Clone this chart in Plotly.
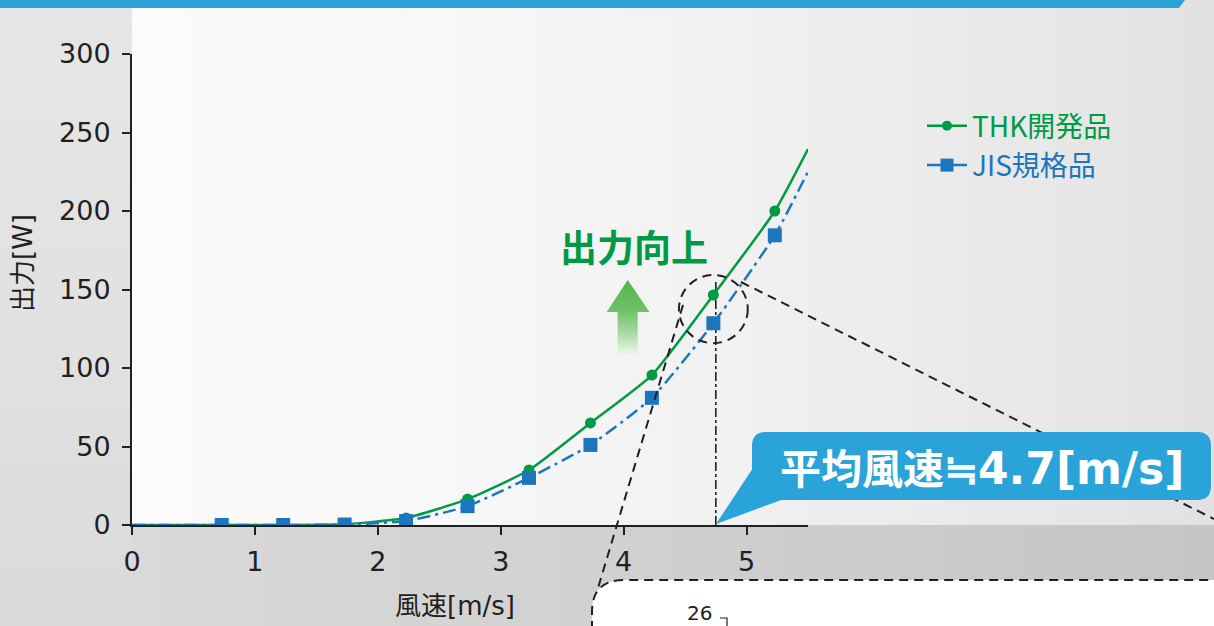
import plotly.graph_objects as go

# ---------------- data ----------------
wind_speed = [0.0, 0.73, 1.23, 1.73, 2.23, 2.73, 3.23, 3.73, 4.23, 4.73, 5.23, 5.5]
thk_output = [0.0, 0.0, 0.0, 0.5, 4.5, 16.5, 35.0, 65.0, 95.5, 146.5, 200.0, 239.5]
jis_output = [0.0, 0.0, 0.0, 0.3, 2.5, 12.0, 30.0, 51.0, 81.0, 128.5, 184.5, 225.0]
measured = [False, True, True, True, True, True, True, True, True, True, True, False]
series_names = ["THK開発品", "JIS規格品"]
x_tick_values = [0, 1, 2, 3, 4, 5]
y_tick_values = [0, 50, 100, 150, 200, 250, 300]
x_title = "風速[m/s]"
y_title = "出力[W]"
avg_wind_speed = 4.75
avg_cjk = "平均風速≒"
avg_value = "4.7[m/s]"
improvement_label = "出力向上"
zoom_point = 9
next_axis_label = "26"

# ---------------- styling ----------------
W, H = 1214, 626
L, R, T, B = 132, 808, 54, 525
GREEN = "#009a44"
BLUE = "#1c76bd"
CALLOUT = "#2aa3d9"
INK = "#231f20"
CJK = "Noto Sans CJK JP"
NUM = "DejaVu Sans"
MIXED = "DejaVu Sans, Noto Sans CJK JP"


def px(x):
    return (x - L) / (R - L)


def py(y):
    return (B - y) / (B - T)


def path(points, close=True):
    s = "M " + " L ".join(f"{px(a):.5f},{py(b):.5f}" for a, b in points)
    return s + (" Z" if close else "")


def lerp_gray(stops, x):
    for (x0, g0), (x1, g1) in zip(stops, stops[1:]):
        if x0 <= x <= x1:
            g = int(round(g0 + (g1 - g0) * (x - x0) / (x1 - x0)))
            return f"rgb({g},{g},{min(g + 1, 255)})"
    g = stops[-1][1]
    return f"rgb({g},{g},{g})"


shapes = []
# background gradient strips (upper light area and lower darker band)
upper_stops = [(132, 251), (450, 248), (800, 239), (1214, 226)]
lower_stops = [(132, 217), (600, 209), (1214, 197)]
left_stops = [(0, 230), (300, 226), (626, 218)]
n = 40
for i in range(n):
    x0 = 132 + (1214 - 132) * i / n
    x1 = 132 + (1214 - 132) * (i + 1) / n + 1
    xm = (x0 + x1) / 2
    shapes.append(dict(type="rect", xref="paper", yref="paper", layer="below",
                       x0=px(x0), x1=px(x1), y0=py(0), y1=py(525),
                       fillcolor=lerp_gray(upper_stops, xm), line_width=0))
    shapes.append(dict(type="rect", xref="paper", yref="paper", layer="below",
                       x0=px(x0), x1=px(x1), y0=py(525), y1=py(640),
                       fillcolor=lerp_gray(lower_stops, xm), line_width=0))
m = 20
for i in range(m):
    y0 = 626 * i / m
    y1 = 626 * (i + 1) / m + 1
    shapes.append(dict(type="rect", xref="paper", yref="paper", layer="below",
                       x0=px(0), x1=px(132), y0=py(y0), y1=py(y1),
                       fillcolor=lerp_gray(left_stops, (y0 + y1) / 2), line_width=0))

# top blue bar
shapes.append(dict(type="path", xref="paper", yref="paper", layer="above",
                   path=path([(0, 0), (1185, 0), (1179, 8), (0, 8)]),
                   fillcolor=CALLOUT, line_width=0))

# vertical dash-dot line at average wind speed (below traces)
shapes.append(dict(type="line", xref="x", yref="y", layer="below",
                   x0=avg_wind_speed, x1=avg_wind_speed, y0=0, y1=156,
                   line=dict(color=INK, width=1.6, dash="dashdot")))

# dashed circle around the highlighted point
cx = wind_speed[zoom_point]
cy = (thk_output[zoom_point] + jis_output[zoom_point]) / 2
shapes.append(dict(type="circle", xref="x", yref="y", layer="above",
                   x0=cx - 0.28, x1=cx + 0.28, y0=cy - 21.7, y1=cy + 21.7,
                   line=dict(color=INK, width=2, dash="9px,6px")))

# leader lines
for a, b in [((683, 305), (595, 598)), ((741, 282), (1214, 519))]:
    shapes.append(dict(type="line", xref="paper", yref="paper", layer="above",
                       x0=px(a[0]), y0=py(a[1]), x1=px(b[0]), y1=py(b[1]),
                       line=dict(color=INK, width=2, dash="9px,6px")))

# callout bubble
bx0, by0, bx1, by1, r = 752, 432, 1211, 500, 14
bubble = (f"M {px(bx0 + r):.5f},{py(by0):.5f} L {px(bx1 - r):.5f},{py(by0):.5f} "
          f"Q {px(bx1):.5f},{py(by0):.5f} {px(bx1):.5f},{py(by0 + r):.5f} "
          f"L {px(bx1):.5f},{py(by1 - r):.5f} "
          f"Q {px(bx1):.5f},{py(by1):.5f} {px(bx1 - r):.5f},{py(by1):.5f} "
          f"L {px(bx0 + r):.5f},{py(by1):.5f} "
          f"Q {px(bx0):.5f},{py(by1):.5f} {px(bx0):.5f},{py(by1 - r):.5f} "
          f"L {px(bx0):.5f},{py(by0 + r):.5f} "
          f"Q {px(bx0):.5f},{py(by0):.5f} {px(bx0 + r):.5f},{py(by0):.5f} Z")
shapes.append(dict(type="path", xref="paper", yref="paper", layer="above",
                   path=bubble, fillcolor=CALLOUT, line_width=0))
shapes.append(dict(type="path", xref="paper", yref="paper", layer="above",
                   path=path([(716, 524), (753, 468), (784, 499)]),
                   fillcolor=CALLOUT, line_width=0))

# bottom zoom box (white, dashed border, rounded top-left corner)
box = (f"M {px(592):.5f},{py(660):.5f} L {px(592):.5f},{py(612):.5f} "
       f"Q {px(592):.5f},{py(580):.5f} {px(624):.5f},{py(580):.5f} "
       f"L {px(1240):.5f},{py(580):.5f} L {px(1240):.5f},{py(660):.5f} Z")
shapes.append(dict(type="path", xref="paper", yref="paper", layer="above",
                   path=box, fillcolor="white",
                   line=dict(color=INK, width=2, dash="9px,6px")))
shapes.append(dict(type="path", xref="paper", yref="paper", layer="above",
                   path=path([(720, 618), (727, 618), (727, 630)], close=False),
                   line=dict(color=INK, width=1.2)))

fig = go.Figure()

# gradient up-arrow (in data space, under the series)
arrow_x = [4.033, 4.211, 4.114, 4.114, 3.951, 3.951, 3.862, 4.033]
arrow_y = [156.0, 135.7, 135.7, 107.5, 107.5, 135.7, 135.7, 156.0]
fig.add_trace(go.Scatter(
    x=arrow_x, y=arrow_y, mode="lines", fill="toself", line=dict(width=0),
    fillgradient=dict(type="vertical", start=156, stop=107.5,
                      colorscale=[[0, "#53b54b"], [0.4, "#6fc168"],
                                  [0.7, "#a9daa3"], [1, "#f2f9f1"]]),
    hoverinfo="skip", showlegend=False))

marker_sizes_thk = [11 if m else 0 for m in measured]
marker_sizes_jis = [14 if m else 0 for m in measured]

fig.add_trace(go.Scatter(
    x=wind_speed, y=thk_output, mode="lines+markers", name=series_names[0],
    line=dict(color=GREEN, width=2.5, shape="spline", smoothing=0.5),
    marker=dict(symbol="circle", size=marker_sizes_thk, color=GREEN,
                opacity=1, line=dict(width=0)),
    showlegend=False))
fig.add_trace(go.Scatter(
    x=wind_speed, y=jis_output, mode="lines+markers", name=series_names[1],
    line=dict(color=BLUE, width=2.5, dash="13px,5px,3px,5px", shape="spline", smoothing=0.5),
    marker=dict(symbol="square", size=marker_sizes_jis, color=BLUE,
                opacity=1, line=dict(width=0)),
    showlegend=False))

# legend entries (solid line samples as in the original key)
fig.add_trace(go.Scatter(
    x=[None], y=[None], mode="lines+markers",
    name=f"<span style='color:{GREEN}'>{series_names[0]}</span>",
    line=dict(color=GREEN, width=2.5),
    marker=dict(symbol="circle", size=10, color=GREEN, line=dict(width=0))))
fig.add_trace(go.Scatter(
    x=[None], y=[None], mode="lines+markers",
    name=f"<span style='color:{BLUE}'>{series_names[1]}</span>",
    line=dict(color=BLUE, width=2.5),
    marker=dict(symbol="square", size=13, color=BLUE, line=dict(width=0))))

annotations = [
    dict(xref="paper", yref="paper", x=px(634), y=py(246), xanchor="center",
         yanchor="middle", showarrow=False, text=f"<b>{improvement_label}</b>",
         font=dict(family=CJK, size=37, color=GREEN)),
    dict(xref="paper", yref="paper", x=px(982), y=py(466), xanchor="center",
         yanchor="middle", showarrow=False,
         text=(f"<b>{avg_cjk}<span style='font-family:{NUM};font-size:44px'>"
               f"{avg_value}</span></b>"),
         font=dict(family=CJK, size=41, color="white")),
    dict(xref="paper", yref="paper", x=px(699), y=py(613), xanchor="center",
         yanchor="middle", showarrow=False,
         text=next_axis_label, font=dict(family=NUM, size=20, color=INK)),
    # axis titles (placed like the original, off-centre)
    dict(xref="paper", yref="paper", x=px(455), y=py(606), xanchor="center",
         yanchor="middle", showarrow=False, text=x_title,
         font=dict(family=MIXED, size=26, color=INK)),
    dict(xref="paper", yref="paper", x=px(23), y=py(263), xanchor="center",
         yanchor="middle", showarrow=False, text=y_title, textangle=-90,
         font=dict(family=MIXED, size=26, color=INK)),
]

fig.update_layout(
    width=W, height=H,
    margin=dict(l=L, r=W - R, t=T, b=H - B, pad=0),
    paper_bgcolor="#e2e2e4",
    plot_bgcolor="rgba(0,0,0,0)",
    shapes=shapes,
    annotations=annotations,
    showlegend=True,
    legend=dict(x=px(922), y=py(101), xanchor="left", yanchor="top",
                bgcolor="rgba(0,0,0,0)", font=dict(family=CJK, size=28),
                itemwidth=40),
    font=dict(family=CJK, color=INK),
)

fig.update_xaxes(
    range=[0, 5.5], tickvals=x_tick_values, showgrid=False, zeroline=False,
    showline=True, linecolor=INK, linewidth=2, ticks="outside", ticklen=8,
    tickwidth=1.5, tickcolor=INK, tickfont=dict(family=NUM, size=27, color=INK),
    ticklabelstandoff=4,
)
fig.update_yaxes(
    range=[0, 300], tickvals=y_tick_values, showgrid=False, zeroline=False,
    showline=True, linecolor=INK, linewidth=2, ticks="outside", ticklen=8,
    tickwidth=1.5, tickcolor=INK, tickfont=dict(family=NUM, size=27, color=INK),
    ticklabelstandoff=6,
)

fig.write_html("out.html")
